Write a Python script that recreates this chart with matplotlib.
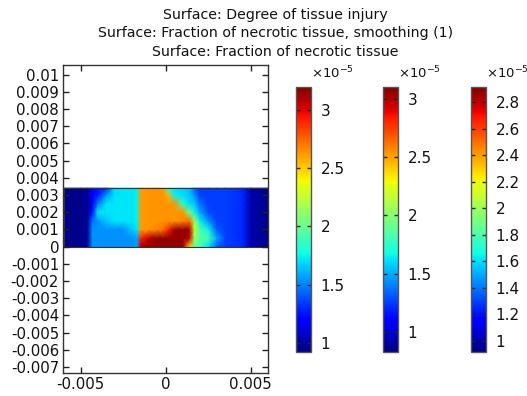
import numpy as np
import matplotlib
matplotlib.use("Agg")
import matplotlib.pyplot as plt
from matplotlib.colors import Normalize
from matplotlib.cm import ScalarMappable

plt.rcParams['font.family'] = 'DejaVu Sans'
plt.rcParams['axes.unicode_minus'] = False
plt.rcParams['mathtext.default'] = 'regular'

# grid of the surface (mm) and values (x 1e-5)
x_mm = [-6.0, -5.0, -4.6, -4.3, -4.0, -3.5, -3.0, -2.5, -2.0, -1.7, -1.45, -1.0, -0.5,
        -0.15, 0.15, 0.5, 1.0, 1.4, 1.7, 2.0, 2.5, 3.0, 3.5, 4.5, 5.0, 6.0]
y_mm = [0.0, 0.5, 1.0, 1.5, 2.0, 2.5, 3.0, 3.4]

row_y00 = [.95, .95, .96, 1.45, 1.45, 1.45, 1.45, 1.45, 1.45, 1.48, 2.85, 2.88, 2.88,
           2.88, 2.88, 2.88, 2.88, 2.3, 1.85, 1.8, 1.62, 1.35, 1.29, 1.25, 1.0, .95]
row_y05 = [.95, .95, .96, 1.45, 1.45, 1.45, 1.45, 1.45, 1.45, 1.48, 2.65, 2.8, 2.88,
           2.88, 2.88, 2.88, 2.88, 2.8, 2.0, 1.82, 1.78, 1.5, 1.3, 1.25, 1.0, .95]
row_y10 = [.95, .95, .96, 1.45, 1.45, 1.45, 1.45, 1.45, 1.55, 1.62, 2.4, 2.42, 2.45,
           2.5, 2.65, 2.85, 2.88, 2.85, 2.1, 1.82, 1.65, 1.35, 1.29, 1.25, 1.0, .95]
row_y15 = [.95, .95, .96, 1.4, 1.45, 1.55, 1.62, 1.62, 1.62, 1.64, 2.4, 2.42, 2.42,
           2.42, 2.42, 2.42, 2.45, 2.5, 2.0, 1.65, 1.45, 1.3, 1.29, 1.25, 1.0, .95]
row_y20 = [.95, .95, .96, 1.2, 1.62, 1.62, 1.62, 1.62, 1.62, 1.64, 2.4, 2.42, 2.42,
           2.42, 2.42, 2.42, 2.42, 1.9, 1.65, 1.5, 1.32, 1.29, 1.29, 1.25, 1.0, .95]
row_y25 = [.95, .95, .96, 1.15, 1.4, 1.62, 1.62, 1.62, 1.62, 1.64, 2.4, 2.42, 2.42,
           2.42, 2.42, 2.42, 1.75, 1.6, 1.55, 1.4, 1.29, 1.29, 1.29, 1.25, 1.0, .95]
row_y30 = [.95, .95, .96, 1.15, 1.22, 1.45, 1.62, 1.62, 1.62, 1.64, 2.4, 2.42, 2.42,
           2.42, 2.35, 1.65, 1.6, 1.55, 1.45, 1.3, 1.29, 1.29, 1.29, 1.25, 1.0, .95]
row_y34 = [.95, .95, .96, 1.15, 1.2, 1.25, 1.6, 1.62, 1.62, 1.64, 2.4, 2.42, 2.42,
           2.4, 1.7, 1.6, 1.58, 1.55, 1.35, 1.29, 1.29, 1.29, 1.29, 1.25, 1.0, .95]

titles = ["Surface: Degree of tissue injury",
          "Surface: Fraction of necrotic tissue, smoothing (1)",
          "Surface: Fraction of necrotic tissue"]

cbar_ranges = [(0.923, 3.195), (0.828, 3.103), (0.919, 2.913)]
cbar_ticks = [[1, 1.5, 2, 2.5, 3],
              [1, 1.5, 2, 2.5, 3],
              [1, 1.2, 1.4, 1.6, 1.8, 2, 2.2, 2.4, 2.6, 2.8]]

xticks = [-0.005, 0, 0.005]
yticks = [0.01, 0.009, 0.008, 0.007, 0.006, 0.005, 0.004, 0.003, 0.002, 0.001, 0,
          -0.001, -0.002, -0.003, -0.004, -0.005, -0.006, -0.007]

X = np.array(x_mm) * 1e-3
Y = np.array(y_mm) * 1e-3
Z = np.array([row_y00, row_y05, row_y10, row_y15, row_y20, row_y25, row_y30, row_y34])

fig = plt.figure(figsize=(5.27, 3.96), dpi=100)
ax = fig.add_axes([0.120, 0.0588, 0.388, 0.777])

vmin, vmax = cbar_ranges[2]
ax.pcolormesh(X, Y, Z, cmap='jet', vmin=vmin, vmax=vmax, shading='gouraud')
ax.plot([X[0], X[-1], X[-1], X[0], X[0]], [Y[0], Y[0], Y[-1], Y[-1], Y[0]],
        color='#333333', lw=0.8)

ax.set_xlim(-0.00602, 0.0060)
ax.set_ylim(-0.00733, 0.01056)
ax.set_xticks(xticks)
ax.set_xticklabels(['%g' % t for t in xticks])
ax.set_yticks(yticks)
ax.set_yticklabels(['%g' % t for t in yticks])
ax.tick_params(direction='in', top=True, right=True, length=4, width=1,
               labelsize=10.8, color='#222222', labelcolor='#111111', pad=3)
ax.set_axisbelow(False)
for s in ax.spines.values():
    s.set_color('#333333')
    s.set_linewidth(1)

for k, t in enumerate(titles):
    fig.text(0.522, 1 - (15 + 18.5 * k) / 396, t, ha='center', va='center',
             fontsize=10.2, color='#111111')

cb_left = [0.5617, 0.7273, 0.8937]
for k in range(3):
    cax = fig.add_axes([cb_left[k], 0.1119, 0.0279, 0.6677])
    lo, hi = cbar_ranges[k]
    sm = ScalarMappable(norm=Normalize(lo, hi), cmap='jet')
    cb = fig.colorbar(sm, cax=cax)
    cb.set_ticks(cbar_ticks[k])
    cb.set_ticklabels(['%g' % t for t in cbar_ticks[k]])
    cax.tick_params(direction='in', length=3, width=1, labelsize=11,
                    color='#222222', labelcolor='#111111', pad=7, left=True)
    cb.outline.set_edgecolor('#555555')
    cb.outline.set_linewidth(1)
    fig.text(cb_left[k] + 0.0279, 1 - 73 / 396, '×10$^{-5}$', ha='left', va='center',
             fontsize=9.5, color='#111111')

fig.savefig('out.png', dpi=100)
